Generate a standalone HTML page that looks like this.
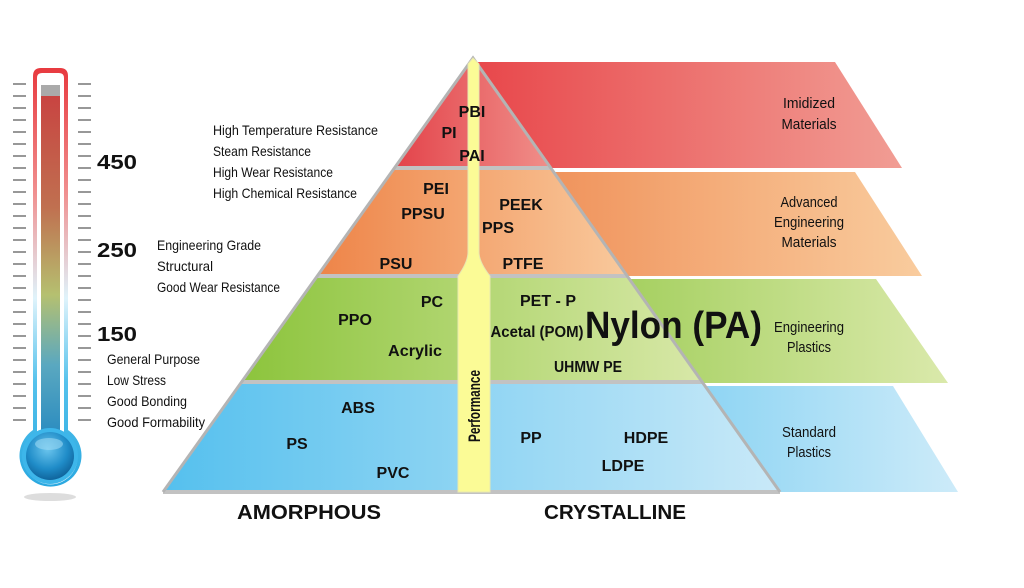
<!DOCTYPE html>
<html><head><meta charset="utf-8"><style>
html,body{margin:0;padding:0;background:#fff;width:1024px;height:588px;overflow:hidden}
svg text{font-family:"Liberation Sans",sans-serif;fill:#111}
.b{font-weight:bold}
</style></head><body>
<svg width="1024" height="588" viewBox="0 0 1024 588" xmlns="http://www.w3.org/2000/svg">
<defs>
<linearGradient id="gr" x1="0" x2="1"><stop offset="0" stop-color="#e8464a"/><stop offset="1" stop-color="#f19d94"/></linearGradient>
<linearGradient id="go" x1="0" x2="1"><stop offset="0" stop-color="#ee874e"/><stop offset="1" stop-color="#f9cc9e"/></linearGradient>
<linearGradient id="gg" x1="0" x2="1"><stop offset="0" stop-color="#8cc43c"/><stop offset="1" stop-color="#dae9ab"/></linearGradient>
<linearGradient id="gb" x1="0" x2="1"><stop offset="0" stop-color="#55c0ee"/><stop offset="1" stop-color="#cdebf9"/></linearGradient>
<linearGradient id="pr" x1="0" x2="1"><stop offset="0" stop-color="#e3434a"/><stop offset="1" stop-color="#f08f8a"/></linearGradient>
<linearGradient id="po" x1="0" x2="1"><stop offset="0" stop-color="#ee8448"/><stop offset="1" stop-color="#f9c99c"/></linearGradient>
<linearGradient id="pg" x1="0" x2="1"><stop offset="0" stop-color="#8cc43c"/><stop offset="1" stop-color="#d8e8a8"/></linearGradient>
<linearGradient id="pb" x1="0" x2="1"><stop offset="0" stop-color="#55c0ee"/><stop offset="1" stop-color="#c9e9f8"/></linearGradient>
<linearGradient id="th" x1="0" y1="0" x2="0" y2="1"><stop offset="0" stop-color="#e83a3f"/><stop offset="0.3" stop-color="#f09090"/><stop offset="0.55" stop-color="#dff3fb"/><stop offset="0.75" stop-color="#55c2ec"/><stop offset="1" stop-color="#2aa8e0"/></linearGradient>
<linearGradient id="tin" x1="0" y1="0" x2="0" y2="1"><stop offset="0" stop-color="#c94040"/><stop offset="0.35" stop-color="#c07050"/><stop offset="0.6" stop-color="#b5c070"/><stop offset="0.8" stop-color="#5aa8c0"/><stop offset="1" stop-color="#2b8cc0"/></linearGradient>
<radialGradient id="bulb" cx="0.45" cy="0.35" r="0.7"><stop offset="0" stop-color="#6cc6ee"/><stop offset="0.6" stop-color="#1f8cc8"/><stop offset="1" stop-color="#0d5d94"/></radialGradient>
</defs>

<polygon points="478,62 835,62 902,168 470,168" fill="url(#gr)"/>
<polygon points="470,172 855,172 922,276 470,276" fill="url(#go)"/>
<polygon points="470,279 876,279 948,383 470,383" fill="url(#gg)"/>
<polygon points="470,386 893,386 958,492 470,492" fill="url(#gb)"/>

<polygon points="473,58 551,168 394,168" fill="url(#pr)"/>
<polygon points="394,168 551,168 627,276 317,276" fill="url(#po)"/>
<polygon points="317,276 627,276 702,382 241,382" fill="url(#pg)"/>
<polygon points="241,382 702,382 780,492 163,492" fill="url(#pb)"/>
<g stroke="#c2c2c2" stroke-width="4" fill="none">
<line x1="394" y1="168" x2="551" y2="168"/>
<line x1="317" y1="276" x2="627" y2="276"/>
<line x1="241" y1="382" x2="702" y2="382"/>
<line x1="163" y1="492" x2="780" y2="492"/>
</g>
<polyline points="163,492 473,58 780,492" fill="none" stroke="#b4b4b4" stroke-width="3"/>

<path d="M468,64 L473,58 L479,64 L479,252 Q479,262 490,276 L490,492 L458,492 L458,276 Q468,262 468,252 Z" fill="#fbfb96" stroke="#e8e8b0" stroke-width="1"/>
<text class="b" font-size="17" transform="translate(480,442) rotate(-90)" textLength="72" lengthAdjust="spacingAndGlyphs">Performance</text>

<ellipse cx="50" cy="497" rx="26" ry="4" fill="#ddd"/>
<path d="M33,76 Q33,68 41,68 L60,68 Q68,68 68,76 L68,430 A31,31 0 1 1 33,430 Z" fill="url(#th)"/>
<path d="M37,78 Q37,73 42,73 L59,73 Q64,73 64,78 L64,434 A27,27 0 1 1 37,434 Z" fill="#fff"/>
<rect x="41" y="85" width="19" height="350" fill="url(#tin)"/>
<rect x="41" y="85" width="19" height="11" fill="#aaa"/>
<circle cx="50" cy="456" r="28" fill="#3db6ea"/>
<circle cx="50" cy="456" r="24" fill="url(#bulb)"/>
<ellipse cx="49" cy="444" rx="14" ry="6" fill="#9bd8f3" opacity="0.6"/>
<g stroke="#777" stroke-width="1.4">
<path d="M13,84h13M13,96h13M13,108h13M13,120h13M13,132h13M13,144h13M13,156h13M13,168h13M13,180h13M13,192h13M13,204h13M13,216h13M13,228h13M13,240h13M13,252h13M13,264h13M13,276h13M13,288h13M13,300h13M13,312h13M13,324h13M13,336h13M13,348h13M13,360h13M13,372h13M13,384h13M13,396h13M13,408h13M13,420h13"/>
<path d="M78,84h13M78,96h13M78,108h13M78,120h13M78,132h13M78,144h13M78,156h13M78,168h13M78,180h13M78,192h13M78,204h13M78,216h13M78,228h13M78,240h13M78,252h13M78,264h13M78,276h13M78,288h13M78,300h13M78,312h13M78,324h13M78,336h13M78,348h13M78,360h13M78,372h13M78,384h13M78,396h13M78,408h13M78,420h13"/>
</g>
<text class="b" x="97" y="169" font-size="20" textLength="40" lengthAdjust="spacingAndGlyphs">450</text>
<text class="b" x="97" y="257" font-size="20" textLength="40" lengthAdjust="spacingAndGlyphs">250</text>
<text class="b" x="97" y="341" font-size="20" textLength="40" lengthAdjust="spacingAndGlyphs">150</text>

<g font-size="14">
<text x="213" y="135" textLength="165" lengthAdjust="spacingAndGlyphs">High Temperature Resistance</text>
<text x="213" y="156" textLength="98" lengthAdjust="spacingAndGlyphs">Steam Resistance</text>
<text x="213" y="177" textLength="120" lengthAdjust="spacingAndGlyphs">High Wear Resistance</text>
<text x="213" y="198" textLength="144" lengthAdjust="spacingAndGlyphs">High Chemical Resistance</text>
<text x="157" y="250" textLength="104" lengthAdjust="spacingAndGlyphs">Engineering Grade</text>
<text x="157" y="271" textLength="56" lengthAdjust="spacingAndGlyphs">Structural</text>
<text x="157" y="292" textLength="123" lengthAdjust="spacingAndGlyphs">Good Wear Resistance</text>
<text x="107" y="364" textLength="93" lengthAdjust="spacingAndGlyphs">General Purpose</text>
<text x="107" y="385" textLength="59" lengthAdjust="spacingAndGlyphs">Low Stress</text>
<text x="107" y="406" textLength="80" lengthAdjust="spacingAndGlyphs">Good Bonding</text>
<text x="107" y="427" textLength="98" lengthAdjust="spacingAndGlyphs">Good Formability</text>
</g>

<g class="b" font-size="16" text-anchor="middle">
<text x="472" y="117" class="b">PBI</text>
<text x="449" y="138" class="b">PI</text>
<text x="472" y="161" class="b">PAI</text>
<text x="436" y="194" class="b">PEI</text>
<text x="423" y="219" class="b">PPSU</text>
<text x="521" y="210" class="b">PEEK</text>
<text x="498" y="233" class="b">PPS</text>
<text x="396" y="269" class="b">PSU</text>
<text x="523" y="269" class="b">PTFE</text>
<text x="432" y="307" class="b">PC</text>
<text x="355" y="325" class="b">PPO</text>
<text x="415" y="356" class="b" textLength="54" lengthAdjust="spacingAndGlyphs">Acrylic</text>
<text x="548" y="306" class="b">PET - P</text>
<text x="537" y="337" class="b" textLength="93" lengthAdjust="spacingAndGlyphs">Acetal (POM)</text>
<text x="588" y="372" class="b" textLength="68" lengthAdjust="spacingAndGlyphs">UHMW PE</text>
<text x="358" y="413" class="b">ABS</text>
<text x="297" y="449" class="b">PS</text>
<text x="393" y="478" class="b">PVC</text>
<text x="531" y="443" class="b">PP</text>
<text x="646" y="443" class="b">HDPE</text>
<text x="623" y="471" class="b">LDPE</text>
</g>
<text class="b" x="585" y="338" font-size="38" textLength="177" lengthAdjust="spacingAndGlyphs">Nylon (PA)</text>

<g font-size="15" text-anchor="middle">
<text x="809" y="108" textLength="52" lengthAdjust="spacingAndGlyphs">Imidized</text>
<text x="809" y="129" textLength="55" lengthAdjust="spacingAndGlyphs">Materials</text>
<text x="809" y="207" textLength="57" lengthAdjust="spacingAndGlyphs">Advanced</text>
<text x="809" y="227" textLength="70" lengthAdjust="spacingAndGlyphs">Engineering</text>
<text x="809" y="247" textLength="55" lengthAdjust="spacingAndGlyphs">Materials</text>
<text x="809" y="332" textLength="70" lengthAdjust="spacingAndGlyphs">Engineering</text>
<text x="809" y="352" textLength="44" lengthAdjust="spacingAndGlyphs">Plastics</text>
<text x="809" y="437" textLength="54" lengthAdjust="spacingAndGlyphs">Standard</text>
<text x="809" y="457" textLength="44" lengthAdjust="spacingAndGlyphs">Plastics</text>
</g>

<text class="b" x="237" y="519" font-size="20" textLength="144" lengthAdjust="spacingAndGlyphs">AMORPHOUS</text>
<text class="b" x="544" y="519" font-size="20" textLength="142" lengthAdjust="spacingAndGlyphs">CRYSTALLINE</text>
</svg>
</body></html>
